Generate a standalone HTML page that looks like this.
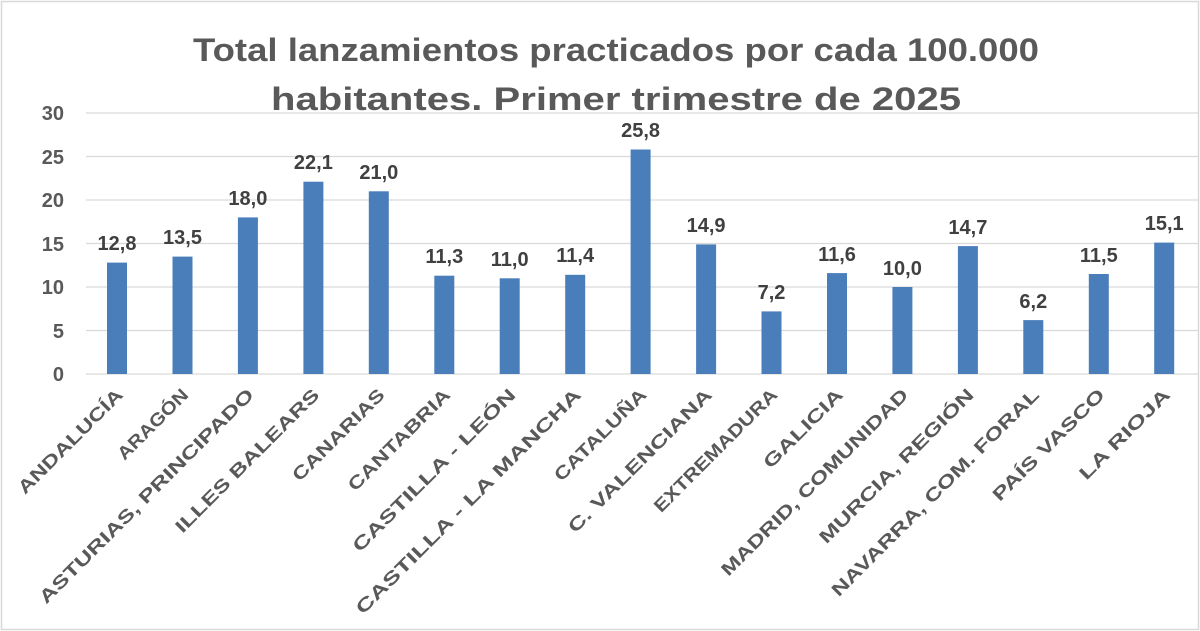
<!DOCTYPE html>
<html><head><meta charset="utf-8"><style>
body{margin:0;background:#fff;}
svg{display:block;font-family:"Liberation Sans",sans-serif;}
</style></head><body>
<svg width="1200" height="631" xmlns="http://www.w3.org/2000/svg">
<rect x="1.5" y="1.5" width="1197" height="628" fill="#fff" stroke="#d9d9d9" stroke-width="1.5"/>
<text x="616" y="61" text-anchor="middle" font-size="32" font-weight="bold" fill="#595959" textLength="846" lengthAdjust="spacingAndGlyphs">Total lanzamientos practicados por cada 100.000</text>
<text x="616" y="110" text-anchor="middle" font-size="32" font-weight="bold" fill="#595959" textLength="690" lengthAdjust="spacingAndGlyphs">habitantes. Primer trimestre de 2025</text>
<g stroke="#d9d9d9" stroke-width="1.3">
<line x1="86" x2="1199" y1="113" y2="113"/><line x1="86" x2="1199" y1="156.5" y2="156.5"/><line x1="86" x2="1199" y1="200" y2="200"/><line x1="86" x2="1199" y1="243.5" y2="243.5"/><line x1="86" x2="1199" y1="287" y2="287"/><line x1="86" x2="1199" y1="330.5" y2="330.5"/><line x1="86" x2="1199" y1="374" y2="374"/>
</g>
<g font-size="20" fill="#595959" text-anchor="end" font-weight="bold">
<text x="64" y="120">30</text><text x="64" y="164">25</text><text x="64" y="207">20</text><text x="64" y="251">15</text><text x="64" y="294">10</text><text x="64" y="338">5</text><text x="64" y="381">0</text>
</g>
<g fill="#4a7ebb">
<rect x="107" y="262.6" width="20" height="111.4"/>
<rect x="172.5" y="256.6" width="20" height="117.4"/>
<rect x="237.9" y="217.4" width="20" height="156.6"/>
<rect x="303.4" y="181.7" width="20" height="192.3"/>
<rect x="368.8" y="191.3" width="20" height="182.7"/>
<rect x="434.3" y="275.7" width="20" height="98.3"/>
<rect x="499.7" y="278.3" width="20" height="95.7"/>
<rect x="565.2" y="274.8" width="20" height="99.2"/>
<rect x="630.6" y="149.5" width="20" height="224.5"/>
<rect x="696.1" y="244.4" width="20" height="129.6"/>
<rect x="761.5" y="311.4" width="20" height="62.6"/>
<rect x="827" y="273.1" width="20" height="100.9"/>
<rect x="892.4" y="287" width="20" height="87"/>
<rect x="957.9" y="246.1" width="20" height="127.9"/>
<rect x="1023.3" y="320.1" width="20" height="53.9"/>
<rect x="1088.8" y="274" width="20" height="100"/>
<rect x="1154.2" y="242.6" width="20" height="131.4"/>
</g>
<g font-size="20" font-weight="bold" fill="#404040" text-anchor="middle">
<text x="117" y="250">12,8</text>
<text x="182.5" y="244">13,5</text>
<text x="247.9" y="205">18,0</text>
<text x="313.4" y="169">22,1</text>
<text x="378.8" y="179">21,0</text>
<text x="444.3" y="263">11,3</text>
<text x="509.7" y="266">11,0</text>
<text x="575.2" y="262">11,4</text>
<text x="640.6" y="137">25,8</text>
<text x="706.1" y="232">14,9</text>
<text x="771.5" y="299">7,2</text>
<text x="837" y="261">11,6</text>
<text x="902.4" y="275">10,0</text>
<text x="967.9" y="234">14,7</text>
<text x="1033.3" y="308">6,2</text>
<text x="1098.8" y="262">11,5</text>
<text x="1164.2" y="230">15,1</text>
</g>
<g font-size="18" font-weight="bold" fill="#595959" text-anchor="end">
<text transform="translate(124,396) rotate(-45)" textLength="140" lengthAdjust="spacingAndGlyphs">ANDALUCÍA</text>
<text transform="translate(189.5,396) rotate(-45)" textLength="92" lengthAdjust="spacingAndGlyphs">ARAGÓN</text>
<text transform="translate(254.9,396) rotate(-45)" textLength="295" lengthAdjust="spacingAndGlyphs">ASTURIAS, PRINCIPADO</text>
<text transform="translate(320.4,396) rotate(-45)" textLength="195" lengthAdjust="spacingAndGlyphs">ILLES BALEARS</text>
<text transform="translate(385.8,396) rotate(-45)" textLength="122" lengthAdjust="spacingAndGlyphs">CANARIAS</text>
<text transform="translate(451.3,396) rotate(-45)" textLength="136" lengthAdjust="spacingAndGlyphs">CANTABRIA</text>
<text transform="translate(516.7,396) rotate(-45)" textLength="222" lengthAdjust="spacingAndGlyphs">CASTILLA - LEÓN</text>
<text transform="translate(582.2,396) rotate(-45)" textLength="310" lengthAdjust="spacingAndGlyphs">CASTILLA - LA MANCHA</text>
<text transform="translate(647.6,396) rotate(-45)" textLength="122" lengthAdjust="spacingAndGlyphs">CATALUÑA</text>
<text transform="translate(713.1,396) rotate(-45)" textLength="195" lengthAdjust="spacingAndGlyphs">C. VALENCIANA</text>
<text transform="translate(778.5,396) rotate(-45)" textLength="166" lengthAdjust="spacingAndGlyphs">EXTREMADURA</text>
<text transform="translate(844,396) rotate(-45)" textLength="104" lengthAdjust="spacingAndGlyphs">GALICIA</text>
<text transform="translate(909.4,396) rotate(-45)" textLength="256" lengthAdjust="spacingAndGlyphs">MADRID, COMUNIDAD</text>
<text transform="translate(974.9,396) rotate(-45)" textLength="210" lengthAdjust="spacingAndGlyphs">MURCIA, REGIÓN</text>
<text transform="translate(1040.3,396) rotate(-45)" textLength="285" lengthAdjust="spacingAndGlyphs">NAVARRA, COM. FORAL</text>
<text transform="translate(1105.8,396) rotate(-45)" textLength="150" lengthAdjust="spacingAndGlyphs">PAÍS VASCO</text>
<text transform="translate(1171.2,396) rotate(-45)" textLength="120" lengthAdjust="spacingAndGlyphs">LA RIOJA</text>
</g>
</svg>
</body></html>
